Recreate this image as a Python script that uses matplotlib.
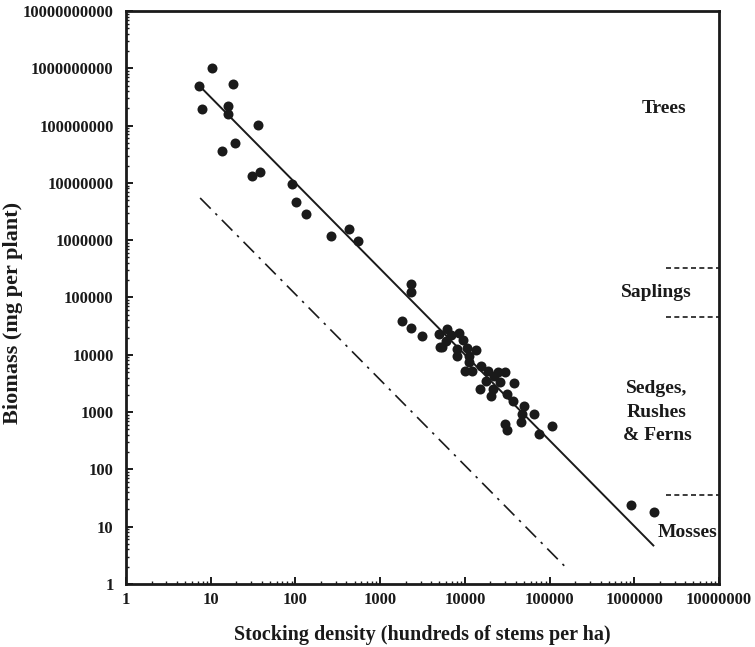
import matplotlib
matplotlib.use("Agg")
import matplotlib.pyplot as plt
import numpy as np
from matplotlib.ticker import LogLocator, FixedLocator, NullFormatter

plt.rcParams["font.family"] = ["Liberation Serif", "DejaVu Serif"]
plt.rcParams["font.weight"] = "bold"

# stocking density (hundreds of stems per ha) and biomass (mg per plant)
density = [7.3, 10.4, 18.5, 7.9, 16.1, 16.0, 36.5, 13.6, 19.4, 30.5, 38.0,
           91, 102, 132, 261, 426, 543,
           2340, 2340, 1800, 2340, 3150, 5000, 5100,
           6110, 6810, 8470, 6000, 9600, 5380, 8020, 10700, 13560,
           8150, 11100, 11300, 15400, 10050, 12050, 18960, 24400, 30060,
           22300, 17800, 26000, 38400, 15100, 21700, 31800, 20400, 37400,
           50000, 47300, 65600, 46400, 29600, 31800, 108000, 75800,
           925000, 1710000]
biomass = [5.0e8, 1.0e9, 5.4e8, 1.95e8, 2.16e8, 1.6e8, 1.04e8, 3.66e7, 5.0e7, 1.33e7, 1.58e7,
           9.6e6, 4.7e6, 2.87e6, 1.17e6, 1.59e6, 9.7e5,
           1.74e5, 1.24e5, 3.9e4, 2.97e4, 2.1e4, 2.3e4, 1.39e4,
           2.79e4, 2.19e4, 2.4e4, 1.76e4, 1.84e4, 1.37e4, 1.26e4, 1.3e4, 1.2e4,
           9640, 9640, 7390, 6460, 5150, 5150, 5150, 4950, 5070,
           4220, 3440, 3310, 3220, 2560, 2560, 2070, 1930, 1580,
           1290, 938, 916, 680, 612, 481, 572, 420,
           24.2, 17.8]

# fitted line and lower (dash-dot) boundary
fit_x = [7.3, 1.68e6]
fit_y = [5.0e8, 4.7]
bound_x = [7.5, 1.5e5]
bound_y = [5.45e6, 2.06]

# size-class boundaries on the right
class_bounds = [3.27e5, 4.6e4, 36]
class_x = [2.4e6, 1e7]
class_labels = [("Trees", 2.25e6, 2.0e8), ("Saplings", 1.8e6, 1.2e5),
                ("Sedges,\nRushes\n& Ferns", 1.85e6, 1.0e3), ("Mosses", 4.2e6, 7.8)]

fig = plt.figure(figsize=(7.55, 6.47), dpi=100)
ax = fig.add_axes([0.1669, 0.0974, 0.7854, 0.8856])
ax.set_xscale("log")
ax.set_yscale("log")
ax.set_xlim(1, 1e7)
ax.set_ylim(1, 1e10)

ax.plot(density, biomass, "o", color="#1a1a1a", markersize=7.2, markeredgewidth=0)
ax.plot(fit_x, fit_y, "-", color="#1a1a1a", linewidth=1.4)
ax.plot(bound_x, bound_y, color="#1a1a1a", linewidth=1.2, dashes=(9, 4, 1.5, 4))
for yb in class_bounds:
    ax.plot(class_x, [yb, yb], color="#1a1a1a", linewidth=1.2, dashes=(3, 2))

for text, tx, ty in class_labels:
    ax.text(tx, ty, text, ha="center", va="center", fontsize=14,
            fontweight="bold", color="#1a1a1a", linespacing=1.5)

ax.xaxis.set_major_locator(FixedLocator([10.0 ** i for i in range(8)]))
ax.yaxis.set_major_locator(FixedLocator([10.0 ** i for i in range(11)]))
ax.set_xticklabels([f"{10 ** i}" for i in range(8)])
ax.set_yticklabels([f"{10 ** i}" for i in range(11)])
ax.xaxis.set_minor_locator(LogLocator(base=10, subs=np.arange(2, 10), numticks=20))
ax.yaxis.set_minor_locator(LogLocator(base=10, subs=np.arange(2, 10), numticks=20))
ax.xaxis.set_minor_formatter(NullFormatter())
ax.yaxis.set_minor_formatter(NullFormatter())
ax.tick_params(which="both", direction="in", top=False, right=False,
               color="#1a1a1a", labelsize=12, labelcolor="#1a1a1a")
ax.tick_params(which="major", length=5, width=1.4)
ax.tick_params(which="minor", length=2.5, width=1)
ax.tick_params(axis="x", pad=6)
ax.tick_params(axis="y", pad=9)
for s in ax.spines.values():
    s.set_linewidth(2)
    s.set_color("#1a1a1a")

ax.set_xlabel("Stocking density (hundreds of stems per ha)", fontsize=14.5,
              fontweight="bold", color="#1a1a1a", labelpad=12)
ax.set_ylabel("Biomass (mg per plant)", fontsize=16, fontweight="bold",
              color="#1a1a1a")
ax.yaxis.set_label_coords(-0.174, 0.473)

fig.savefig("out.png", dpi=100, facecolor="white")
